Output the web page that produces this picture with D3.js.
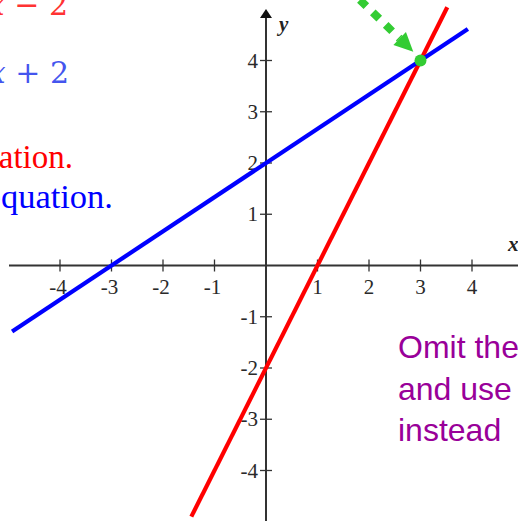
<!DOCTYPE html>
<html>
<head>
<meta charset="utf-8">
<script src="https://cdn.jsdelivr.net/npm/d3@7"></script>
<style>
  html, body { margin: 0; padding: 0; background: #fff; overflow: hidden; }
  svg { display: block; }
</style>
</head>
<body>
<svg id="chart" width="518" height="521"></svg>
<script>
// Tick values along each axis (0 is left unlabeled)
const xTicks = [-4, -3, -2, -1, 1, 2, 3, 4];
const yTicks = [-4, -3, -2, -1, 1, 2, 3, 4];

// Two lines: y = slope * x + intercept, drawn between xFrom and xTo
const lineNames = ["red", "blue"];
const slopes = [2, 2 / 3];
const intercepts = [-2, 2];
const xFrom = [-1.45, -4.93];
const xTo = [3.52, 3.92];
const lineColors = ["#ff0000", "#0000ff"];

// Intersection point of the two lines
const solution = [3, 4];

// Pointer toward the intersection (data coordinates)
const pointerFrom = [1.6, 5.4];
const pointerTo = [2.86, 4.17];

const svg = d3.select("#chart");

const x = d3.scaleLinear().domain([-4, 4]).range([60, 472]);
const y = d3.scaleLinear().domain([-4, 4]).range([470.5, 60.5]);

const axisColor = "#333";

// Axes lines
svg.append("line")
  .attr("x1", 9).attr("x2", 540)
  .attr("y1", y(0)).attr("y2", y(0))
  .attr("stroke", axisColor).attr("stroke-width", 2);
svg.append("line")
  .attr("x1", x(0)).attr("x2", x(0))
  .attr("y1", 16).attr("y2", 530)
  .attr("stroke", axisColor).attr("stroke-width", 2);
// y axis arrowhead
svg.append("path")
  .attr("d", `M${x(0)},9 L${x(0) - 6},18 L${x(0) + 6},18 Z`)
  .attr("fill", "#111");

// Tick marks (crosses straddling the axis)
svg.append("g").selectAll("line").data(xTicks).join("line")
  .attr("x1", d => x(d)).attr("x2", d => x(d))
  .attr("y1", y(0) - 6).attr("y2", y(0) + 6)
  .attr("stroke", axisColor).attr("stroke-width", 1.3);
svg.append("g").selectAll("line").data(yTicks).join("line")
  .attr("x1", x(0) - 6).attr("x2", x(0) + 6)
  .attr("y1", d => y(d)).attr("y2", d => y(d))
  .attr("stroke", axisColor).attr("stroke-width", 1.3);

// Tick labels
const tickFont = "Liberation Serif, Times New Roman, serif";
svg.append("g").selectAll("text").data(xTicks).join("text")
  .attr("x", d => x(d) - (d < 0 ? 2 : 0))
  .attr("y", y(0) + 28)
  .attr("text-anchor", "middle")
  .attr("font-family", tickFont).attr("font-size", 21)
  .attr("fill", "#2a2a2a")
  .text(d => d < 0 ? "-" + Math.abs(d) : d);
svg.append("g").selectAll("text").data(yTicks).join("text")
  .attr("x", x(0) - 8)
  .attr("y", d => y(d) + 7)
  .attr("text-anchor", "end")
  .attr("font-family", tickFont).attr("font-size", 21)
  .attr("fill", "#2a2a2a")
  .text(d => d < 0 ? "-" + Math.abs(d) : d);

// Axis names
svg.append("text")
  .attr("x", x(0) + 13).attr("y", 31)
  .attr("font-family", tickFont).attr("font-size", 21)
  .attr("font-style", "italic").attr("font-weight", "bold")
  .attr("fill", "#222").text("y");
svg.append("text")
  .attr("x", 508).attr("y", 251)
  .attr("font-family", tickFont).attr("font-size", 21)
  .attr("font-style", "italic").attr("font-weight", "bold")
  .attr("fill", "#222").text("x");

// The two lines
const lineData = lineNames.map((n, i) => ({
  name: n,
  color: lineColors[i],
  pts: [xFrom[i], xTo[i]].map(v => [v, slopes[i] * v + intercepts[i]])
}));
const lineGen = d3.line().x(d => x(d[0])).y(d => y(d[1]));
svg.append("g").selectAll("path").data(lineData).join("path")
  .attr("d", d => lineGen(d.pts))
  .attr("fill", "none")
  .attr("stroke", d => d.color)
  .attr("stroke-width", 4.2);

// Pointer arrow (dotted) to the intersection
const green = "#33cc33";
const p0 = [x(pointerFrom[0]), y(pointerFrom[1])];
const p1 = [x(pointerTo[0]), y(pointerTo[1])];
const ang = Math.atan2(p1[1] - p0[1], p1[0] - p0[0]);
const headLen = 19, headHalf = 9;
const base = [p1[0] - headLen * Math.cos(ang), p1[1] - headLen * Math.sin(ang)];
svg.append("line")
  .attr("x1", p0[0]).attr("y1", p0[1])
  .attr("x2", base[0]).attr("y2", base[1])
  .attr("stroke", green).attr("stroke-width", 8)
  .attr("stroke-dasharray", "9 9")
  .attr("stroke-dashoffset", 2);
svg.append("path")
  .attr("d", `M${p1[0]},${p1[1]}
    L${base[0] + headHalf * Math.sin(ang)},${base[1] - headHalf * Math.cos(ang)}
    L${base[0] - headHalf * Math.sin(ang)},${base[1] + headHalf * Math.cos(ang)} Z`)
  .attr("fill", green);

// Intersection point
svg.append("circle")
  .attr("cx", x(solution[0])).attr("cy", y(solution[1]))
  .attr("r", 6).attr("fill", green);

// Equations (partly outside the left edge)
const mathFont = "DejaVu Serif, Liberation Serif, serif";
svg.append("text")
  .attr("x", 68).attr("y", 15)
  .attr("text-anchor", "end")
  .attr("font-family", mathFont).attr("font-size", 30)
  .attr("fill", "#ff3333")
  .html("y = 2<tspan font-style='italic'>x</tspan> − 2");
svg.append("text")
  .attr("x", 69).attr("y", 83)
  .attr("text-anchor", "end")
  .attr("font-family", mathFont).attr("font-size", 30)
  .attr("fill", "#4455ee")
  .html("y = ⅔<tspan font-style='italic'>x</tspan> + 2");

// Notes
const noteFont = "Liberation Serif, Times New Roman, serif";
svg.append("text")
  .attr("x", 73).attr("y", 168)
  .attr("text-anchor", "end")
  .attr("font-family", noteFont).attr("font-size", 33)
  .attr("fill", "#ff0000")
  .text("Solve the first equation.");
svg.append("text")
  .attr("x", 113).attr("y", 208)
  .attr("text-anchor", "end")
  .attr("font-family", noteFont).attr("font-size", 34.5)
  .attr("fill", "#0000ff")
  .text("Solve the second equation.");

const purpleLines = ["Omit the", "and use", "instead"];
svg.append("g").selectAll("text").data(purpleLines).join("text")
  .attr("x", 398)
  .attr("y", (d, i) => 358 + i * 41.5)
  .attr("font-family", "Liberation Sans, Arial, sans-serif")
  .attr("font-size", 32)
  .attr("fill", "#990099")
  .text(d => d);
</script>
</body>
</html>
